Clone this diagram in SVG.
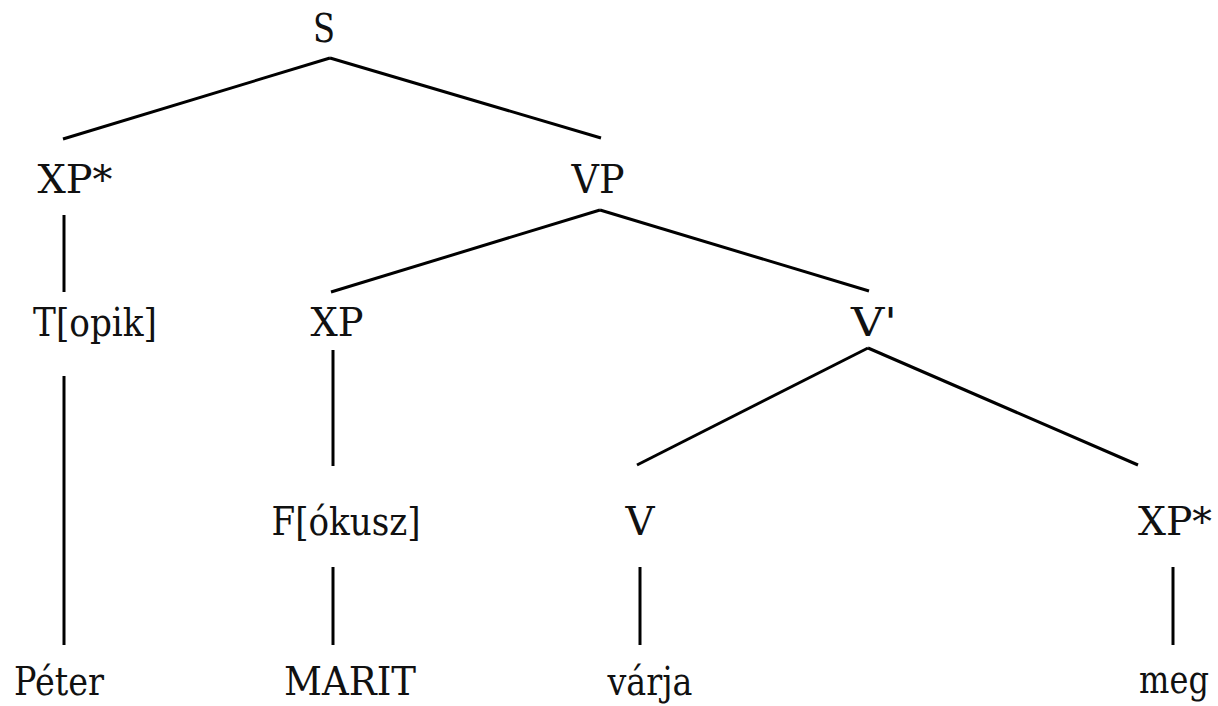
<svg xmlns="http://www.w3.org/2000/svg" width="1218" height="706" viewBox="0 0 1218 706">
<style>
text{font-family:'DejaVu Serif',serif;font-size:40px;fill:#111;text-anchor:middle}
.e line{stroke:#000;stroke-width:3;stroke-linecap:butt}
</style>
<rect width="1218" height="706" fill="#fff"/>
<g class="e" id="edges">
<line x1="330" y1="58" x2="63" y2="139"/>
<line x1="330" y1="58" x2="601" y2="138"/>
<line x1="64" y1="215" x2="64" y2="292"/>
<line x1="600" y1="210" x2="331" y2="292"/>
<line x1="600" y1="210" x2="869" y2="291"/>
<line x1="333" y1="350" x2="333" y2="466"/>
<line x1="868" y1="348" x2="637" y2="465"/>
<line x1="868" y1="348" x2="1138" y2="465"/>
<line x1="64" y1="376" x2="64" y2="645"/>
<line x1="333" y1="567" x2="333" y2="645"/>
<line x1="640" y1="567" x2="640" y2="645"/>
<line x1="1173" y1="567" x2="1173" y2="645"/>
</g>
<g id="n-S"><text x="324" y="42" textLength="22" lengthAdjust="spacingAndGlyphs">S</text></g>
<g id="n-XPstar1"><text x="75" y="193" textLength="75" lengthAdjust="spacingAndGlyphs">XP*</text></g>
<g id="n-VP"><text x="598" y="193" textLength="53" lengthAdjust="spacingAndGlyphs">VP</text></g>
<g id="n-Topik"><text x="95" y="336" textLength="124" lengthAdjust="spacingAndGlyphs">T[opik]</text></g>
<g id="n-XP"><text x="337" y="336" textLength="53" lengthAdjust="spacingAndGlyphs">XP</text></g>
<g id="n-Vbar"><text x="874" y="336" textLength="46" lengthAdjust="spacingAndGlyphs">V'</text></g>
<g id="n-Fokusz"><text x="346" y="535" textLength="149" lengthAdjust="spacingAndGlyphs">F[ókusz]</text></g>
<g id="n-V"><text x="640" y="535" textLength="29" lengthAdjust="spacingAndGlyphs">V</text></g>
<g id="n-XPstar2"><text x="1175" y="535" textLength="74" lengthAdjust="spacingAndGlyphs">XP*</text></g>
<g id="n-Peter"><text x="59" y="695" textLength="90" lengthAdjust="spacingAndGlyphs">Péter</text></g>
<g id="n-MARIT"><text x="350" y="695" textLength="132" lengthAdjust="spacingAndGlyphs">MARIT</text></g>
<g id="n-varja"><text x="650" y="695" textLength="85" lengthAdjust="spacingAndGlyphs">várja</text></g>
<g id="n-meg"><text transform="translate(1174,693) scale(0.8,1)" x="0" y="0">meg</text></g>
</svg>
